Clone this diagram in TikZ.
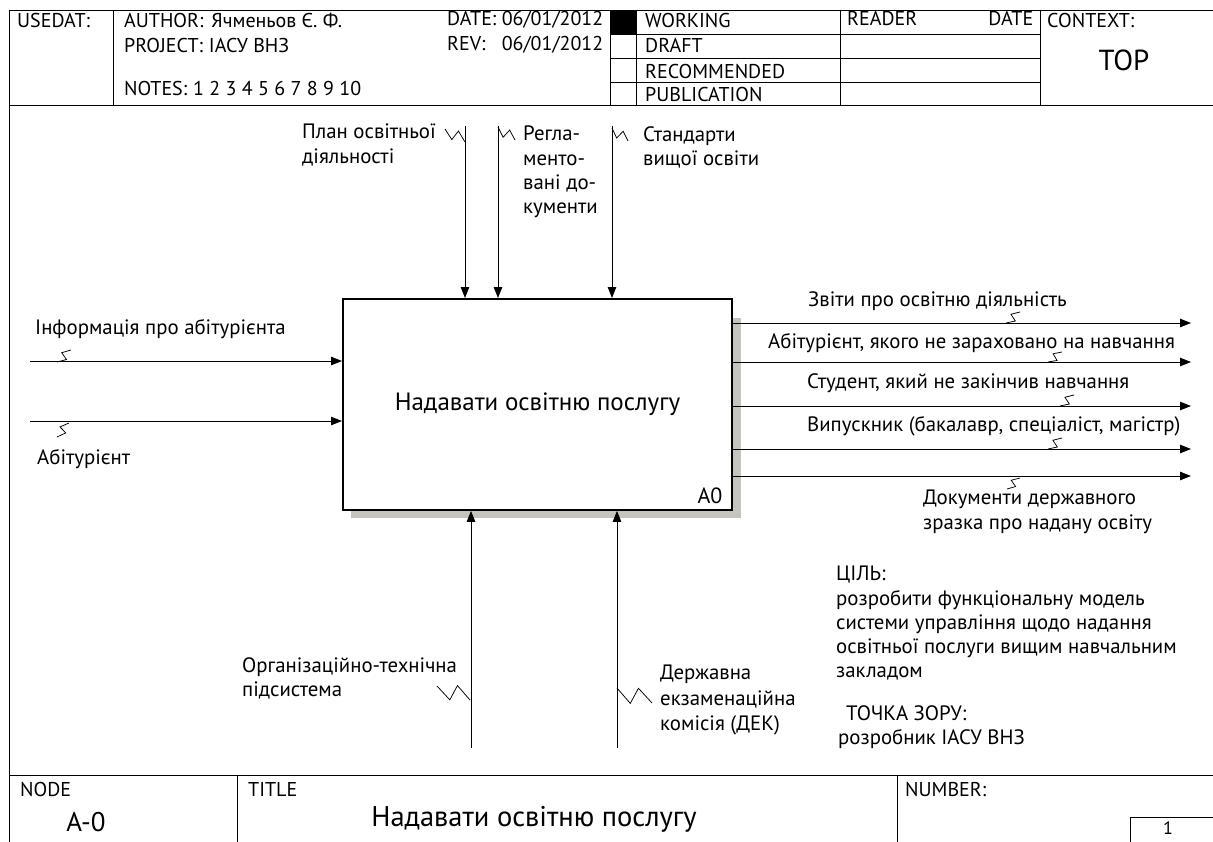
\documentclass[tikz,border=0pt]{standalone}
\usepackage{fontspec}
\setmainfont{PT Sans}
\usetikzlibrary{arrows.meta,positioning,calc}
\definecolor{shadowgrey}{HTML}{C6C4BE}
\tikzset{
  rule/.style={line width=1pt},
  headtext/.style={font=\fontsize{20}{24}\selectfont,anchor=west,inner sep=0pt},
  flowlabel/.style={font=\fontsize{20.8}{24.3}\selectfont,anchor=north west,align=left,inner sep=0pt},
  flow/.style={line width=0.9pt,-{Triangle[length=11pt,width=8.5pt]}},
  squig/.style={line width=0.75pt},
  funcbox/.style={draw,line width=1.9pt,fill=white,anchor=north west,
    minimum width=389pt,minimum height=211pt,font=\fontsize{25}{28}\selectfont}
}

\begin{document}
\begin{tikzpicture}[x=1pt,y=-1pt]
  \useasboundingbox (0,0) rectangle (1213,841);

  % frame and header
  \draw[rule] (1225,10) -- (9,10) -- (9,850);
  \draw[rule] (9,105) -- (1225,105);
  \draw[rule] (9,775) -- (1225,775);
  \foreach \x in {113,610,636,840,1040} \draw[rule] (\x,10) -- (\x,105);
  \foreach \y in {34,58,82} \draw[rule] (610,\y) -- (1040,\y);
  \fill (610,10) rectangle (636,34);
  \node[headtext] (usedat) at (17,20) {USEDAT:};
  \node[headtext] (author) at (124,20) {AUTHOR:\hspace{8pt}Ячменьов Є. Ф.};
  \node[headtext] (project) at (124,45) {PROJECT:\hspace{6pt}ІАСУ ВНЗ};
  \node[headtext] (notes) at (124,88) {NOTES:\hspace{6pt}1 2 3 4 5 6 7 8 9 10};
  \node[headtext] (date) at (447,20) {\makebox[156pt][s]{DATE:\hfill06/01/2012}};
  \node[headtext] (rev) at (447,45) {\makebox[156pt][s]{REV:\hfill06/01/2012}};
  \node[headtext] (working) at (645,20) {WORKING};
  \node[headtext] (draft) at (645,45) {DRAFT};
  \node[headtext] (recommended) at (645,71) {RECOMMENDED};
  \node[headtext] (publication) at (645,94) {PUBLICATION};
  \node[headtext] (reader) at (847,18) {\makebox[186pt][s]{READER\hfill DATE}};
  \node[headtext] (context) at (1047,20) {CONTEXT:};
  \node[font=\fontsize{29}{32}\selectfont] (top) at (1124,60) {TOP};

  % footer
  \draw[rule] (237,775) -- (237,850);
  \draw[rule] (897,775) -- (897,850);
  \draw[rule] (1225,817) -- (1130,817) -- (1130,850);
  \node[headtext] (nodelabel) at (20,789) {NODE};
  \node[font=\fontsize{27}{30}\selectfont] (nodeno) at (86,822) {A-0};
  \node[headtext] (titlelabel) at (248,789) {TITLE};
  \node[font=\fontsize{28.5}{32}\selectfont] (titletext) at (534,819) {Надавати освітню послугу};
  \node[headtext] (number) at (905,789) {NUMBER:};
  \node[font=\fontsize{18}{20}\selectfont,inner sep=0pt] (pageno) at (1168,828) {1};

  % function box
  \fill[shadowgrey] (351,318) rectangle (741,518);
  \node[funcbox] (A0) at (342,298) {Надавати освітню послугу};
  \node[font=\fontsize{22}{26}\selectfont,anchor=south east] (A0id) at ($(A0.south east)+(-7,-4)$) {A0};

  % arrows
  \coordinate (c1) at (465,126);
  \coordinate (c2) at (498,126);
  \coordinate (c3) at (612,126);
  \coordinate (i1) at (30,361);
  \coordinate (i2) at (30,421);
  \coordinate (m1) at (471,748);
  \coordinate (m2) at (617,748);
  \coordinate (o1) at (1191,323);
  \coordinate (o2) at (1191,362);
  \coordinate (o3) at (1191,406);
  \coordinate (o4) at (1191,449);
  \coordinate (o5) at (1191,476);
  \foreach \c in {c1,c2,c3} \draw[flow] (\c) -- (\c |- A0.north);
  \foreach \c in {i1,i2} \draw[flow] (\c) -- (\c -| A0.west);
  \foreach \c in {m1,m2} \draw[flow] (\c) -- (\c |- A0.south);
  \foreach \c in {o1,o2,o3,o4,o5} \draw[flow] (\c -| A0.east) -- (\c);

  % arrow labels
  \node[flowlabel] (ctl1) at (302,124) {План освітньої\\діяльності};
  \node[flowlabel] (ctl2) at (523,126) {Регла-\\менто-\\вані до-\\кументи};
  \node[flowlabel] (ctl3) at (643,126) {Стандарти\\вищої освіти};
  \node[flowlabel] (in1) at (35,319) {Інформація про абітурієнта};
  \node[flowlabel] (in2) at (37,449) {Абітурієнт};
  \node[flowlabel] (out1) at (808,291) {Звіти про освітню діяльність};
  \node[flowlabel] (out2) at (768,333) {Абітурієнт, якого не зараховано на навчання};
  \node[flowlabel] (out3) at (807,373) {Студент, який не закінчив навчання};
  \node[flowlabel] (out4) at (807,416) {Випускник (бакалавр, спеціаліст, магістр)};
  \node[flowlabel] (out5) at (923,490) {Документи державного\\зразка про надану освіту};
  \node[flowlabel] (mech1) at (242,657) {Організаційно-технічна\\підсистема};
  \node[flowlabel,font=\fontsize{20.8}{25.5}\selectfont] (mech2) at (660,665) {Державна\\екзаменаційна\\комісія (ДЕК)};

  % squiggles from arrows to labels
  \foreach \ax/\ay/\bx/\by in {465/142/445/129, 498/127/515/140, 612/128/628/141,
      57/362/71/350, 69/423/57/437, 1006/323/1020/312, 1048/362/1062/352,
      1060/406/1074/395, 1048/449/1062/438, 1020/478/1007/489,
      470/700/437/686, 617/688/652/703}
    \draw[squig] (\ax,\ay) -- ($(\ax,\ay)!0.48!(\bx,\by)!0.45!-90:(\bx,\by)$)
      -- ($(\ax,\ay)!0.52!(\bx,\by)!0.45!90:(\bx,\by)$) -- (\bx,\by);

  % purpose and viewpoint
  \node[flowlabel] (purpose) at (836,566) {ЦІЛЬ:\\розробити функціональну модель\\системи управління щодо надання\\освітньої послуги вищим навчальним\\закладом};
  \node[flowlabel] (viewpoint) at (838,705) {\hspace*{8pt}ТОЧКА ЗОРУ:\\розробник ІАСУ ВНЗ};
\end{tikzpicture}
\end{document}
